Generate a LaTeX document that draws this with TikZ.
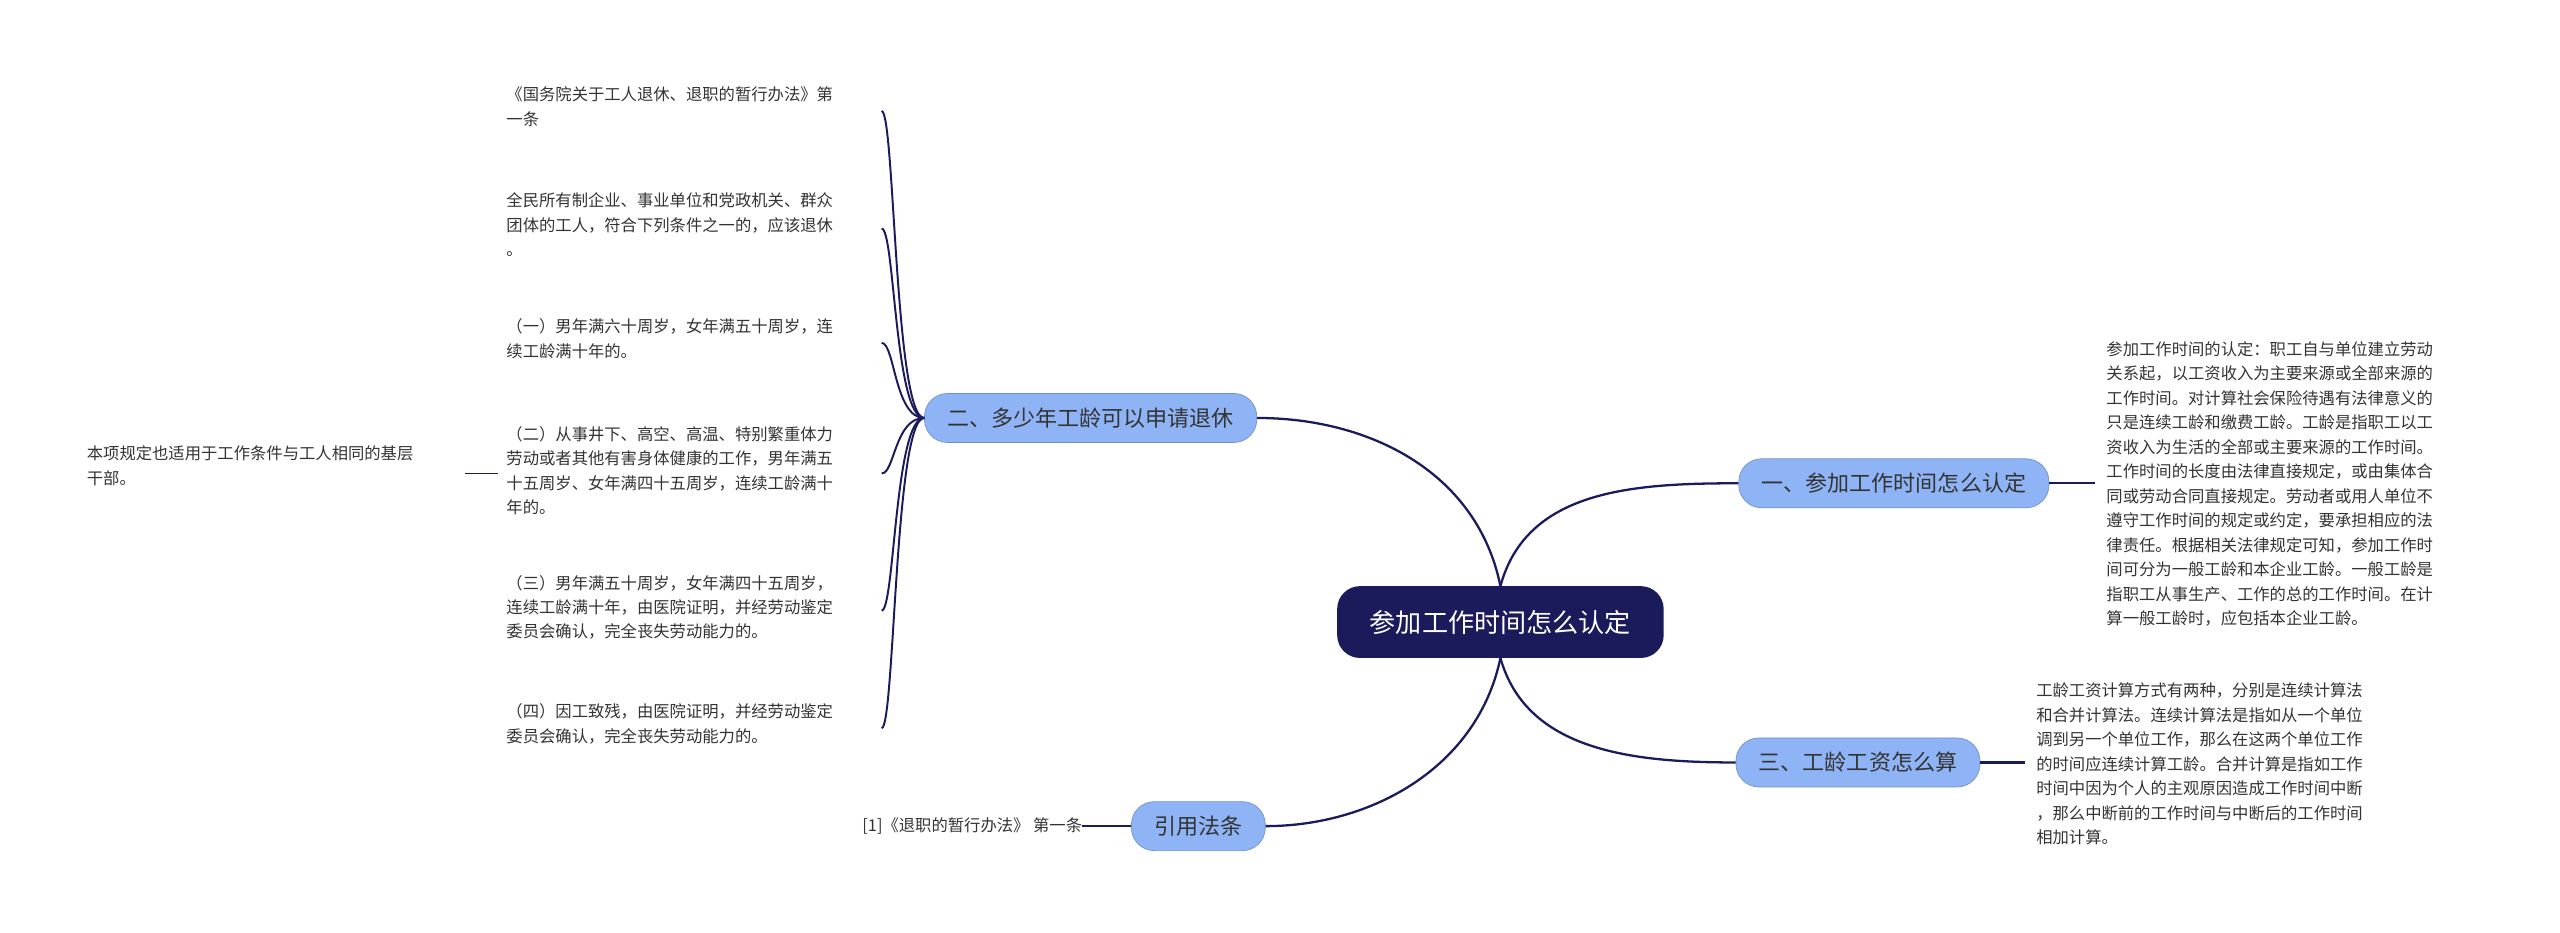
\documentclass[tikz,border=0pt]{standalone}
\usepackage{fontspec}
\setmainfont{Noto Sans CJK SC}
\definecolor{navy}{HTML}{1B1B5C}
\definecolor{sky}{HTML}{8FB4F5}
\definecolor{ink}{HTML}{333333}
\tikzset{
  root/.style={rounded corners=14pt, fill=navy, text=white, minimum height=44pt, inner xsep=20pt, font=\fontsize{16}{20}\selectfont},
  branch/.style={rounded corners=14pt, fill=sky, draw=sky!80!black, text=ink, minimum height=30pt, inner xsep=14pt, font=\fontsize{13.5}{16}\selectfont},
  leaf/.style={text=ink, align=left, inner sep=0pt, font=\fontsize{10}{15}\selectfont},
  link/.style={draw=navy, line width=1.4pt}
}
\begin{document}
\begin{tikzpicture}[x=1pt,y=-1pt]
\useasboundingbox (0,0) rectangle (1568,571);
% main topic
\node[root] (root) at (919,381) {参加工作时间怎么认定};
% branches
\node[branch] (b1) at (1160,296) {一、参加工作时间怎么认定};
\node[branch] (b3) at (1138,467) {三、工龄工资怎么算};
\node[branch] (b2) at (668,256) {二、多少年工龄可以申请退休};
\node[branch] (b4) at (734,506) {引用法条};
\draw[link] (919,359) .. controls (935,300) and (1000,296) .. (b1.west);
\draw[link] (919,403) .. controls (935,460) and (1000,467) .. (b3.west);
\draw[link] (919,359) .. controls (905,290) and (840,256) .. (b2.east);
\draw[link] (919,403) .. controls (905,470) and (840,506) .. (b4.east);
% right texts
\node[leaf, anchor=north west] (t1) at (1290,209) {参加工作时间的认定：职工自与单位建立劳动\\关系起，以工资收入为主要来源或全部来源的\\工作时间。对计算社会保险待遇有法律意义的\\只是连续工龄和缴费工龄。工龄是指职工以工\\资收入为生活的全部或主要来源的工作时间。\\工作时间的长度由法律直接规定，或由集体合\\同或劳动合同直接规定。劳动者或用人单位不\\遵守工作时间的规定或约定，要承担相应的法\\律责任。根据相关法律规定可知，参加工作时\\间可分为一般工龄和本企业工龄。一般工龄是\\指职工从事生产、工作的总的工作时间。在计\\算一般工龄时，应包括本企业工龄。};
\node[leaf, anchor=north west] (t3) at (1247,418) {工龄工资计算方式有两种，分别是连续计算法\\和合并计算法。连续计算法是指如从一个单位\\调到另一个单位工作，那么在这两个单位工作\\的时间应连续计算工龄。合并计算是指如工作\\时间中因为个人的主观原因造成工作时间中断\\，那么中断前的工作时间与中断后的工作时间\\相加计算。};
\draw[link] (b1.east) -- (1283,296);
\draw[link] (b3.east) -- (1240,467);
% left leaves
\node[leaf, anchor=north west] (l1) at (310,53) {《国务院关于工人退休、退职的暂行办法》第\\一条};
\node[leaf, anchor=north west] (l2) at (310,118) {全民所有制企业、事业单位和党政机关、群众\\团体的工人，符合下列条件之一的，应该退休\\。};
\node[leaf, anchor=north west] (l3) at (310,195) {（一）男年满六十周岁，女年满五十周岁，连\\续工龄满十年的。};
\node[leaf, anchor=north west] (l4) at (310,261) {（二）从事井下、高空、高温、特别繁重体力\\劳动或者其他有害身体健康的工作，男年满五\\十五周岁、女年满四十五周岁，连续工龄满十\\年的。};
\node[leaf, anchor=north west] (l5) at (310,352) {（三）男年满五十周岁，女年满四十五周岁，\\连续工龄满十年，由医院证明，并经劳动鉴定\\委员会确认，完全丧失劳动能力的。};
\node[leaf, anchor=north west] (l6) at (310,431) {（四）因工致残，由医院证明，并经劳动鉴定\\委员会确认，完全丧失劳动能力的。};
\foreach \n/\y in {l1/68,l2/140,l3/210,l4/290,l5/374,l6/446}{
  \coordinate (e\n) at (540,\y);
  \draw[link, line width=1.2pt] (b2.west) .. controls (548,256) and (548,\y) .. (e\n);
}
\node[leaf, anchor=north west] (l4a) at (53,273) {本项规定也适用于工作条件与工人相同的基层\\干部。};
\draw[link, line width=1.2pt] (305,290) -- (285,290);
\node[leaf, anchor=east] (r1) at (663,506) {[1]《退职的暂行办法》 第一条};
\draw[link, line width=1.2pt] (b4.west) -- (r1.east);
\end{tikzpicture}
\end{document}
